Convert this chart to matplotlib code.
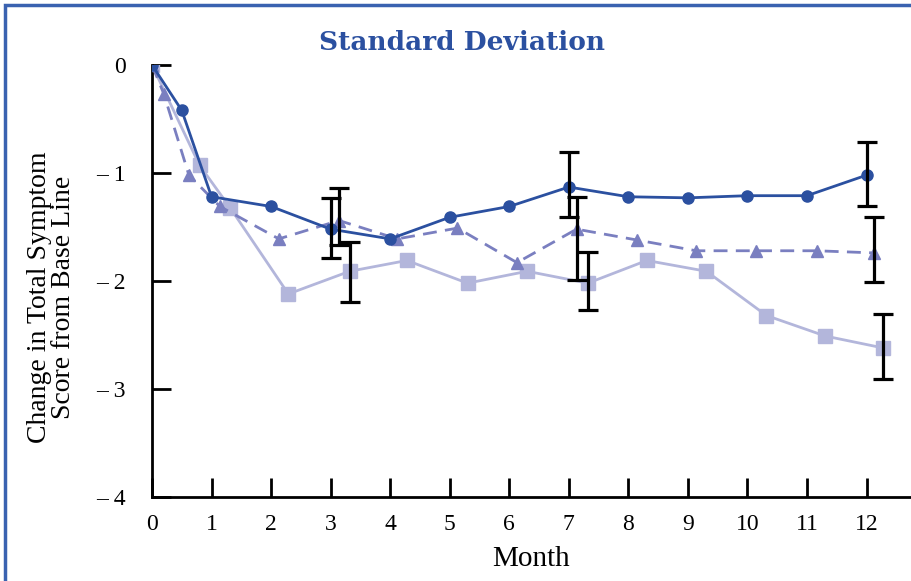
import matplotlib
matplotlib.use('Agg')
import matplotlib.pyplot as plt
import matplotlib.ticker as ticker
from matplotlib.patches import Rectangle

# month positions (series are slightly offset from each other)
x_circle = [0, 0.5, 1, 2, 3, 4, 5, 6, 7, 8, 9, 10, 11, 12]
y_circle = [0, -0.42, -1.22, -1.31, -1.52, -1.61, -1.41, -1.31, -1.13, -1.22, -1.23, -1.21, -1.21, -1.02]

x_tri = [0, 0.2, 0.62, 1.14, 2.13, 3.14, 4.12, 5.13, 6.13, 7.13, 8.14, 9.14, 10.15, 11.16, 12.13]
y_tri = [0, -0.27, -1.02, -1.31, -1.61, -1.44, -1.61, -1.51, -1.83, -1.52, -1.62, -1.72, -1.72, -1.72, -1.74]

x_sq = [0, 0.8, 1.31, 2.29, 3.32, 4.28, 5.3, 6.3, 7.32, 8.31, 9.31, 10.32, 11.31, 12.28]
y_sq = [0, -0.93, -1.32, -2.12, -1.91, -1.81, -2.02, -1.91, -2.02, -1.81, -1.91, -2.32, -2.51, -2.62]

# error bars: x, centre, lower, upper
err_x = [3, 7, 12, 3.14, 7.13, 12.13, 3.32, 7.32, 12.28]
err_c = [-1.51, -1.11, -1.01, -1.40, -1.60, -1.71, -1.91, -2.00, -2.61]
err_lo = [0.28, 0.30, 0.30, 0.27, 0.39, 0.30, 0.28, 0.27, 0.30]
err_hi = [0.28, 0.30, 0.30, 0.26, 0.38, 0.30, 0.27, 0.27, 0.30]

months = list(range(13))
yticks = [0, -1, -2, -3, -4]

c_dark = '#2b50a0'
c_mid = '#7a7fc0'
c_light = '#b3b6db'

plt.rcParams['font.family'] = ['Liberation Serif', 'DejaVu Serif']

fig = plt.figure(figsize=(9.11, 5.81), dpi=100)
ax = fig.add_axes([152 / 911, 84 / 581, (910 - 152) / 911, (497 - 65) / 581])

ax.plot(x_sq, y_sq, color=c_light, lw=2, marker='s', ms=9.5, zorder=2)
ax.plot(x_tri, y_tri, color=c_mid, lw=2, ls=(0, (5, 3)), marker='^', ms=9, zorder=3)
ax.plot(x_circle, y_circle, color=c_dark, lw=2, marker='o', ms=8, zorder=4)
ax.errorbar(err_x, err_c, yerr=[err_lo, err_hi], fmt='none', ecolor='black',
            elinewidth=2.3, capsize=7, capthick=2.3, zorder=5)

ax.set_xlim(0, 12.73)
ax.set_ylim(-4, 0)
ax.set_xticks(months)
ax.set_yticks(yticks)
ax.yaxis.set_major_formatter(ticker.FuncFormatter(
    lambda v, pos: '0' if v == 0 else '\u2013 %d' % abs(v)))
ax.tick_params(axis='both', direction='in', width=2, length=14, labelsize=17, colors='black')
ax.tick_params(axis='x', pad=12)
ax.tick_params(axis='y', pad=19)

for s in ['top', 'right']:
    ax.spines[s].set_visible(False)
for s in ['left', 'bottom']:
    ax.spines[s].set_linewidth(2)

ax.set_xlabel('Month', fontsize=21, labelpad=8)
ax.set_ylabel('Change in Total Symptom\nScore from Base Line', fontsize=20,
              linespacing=0.95, va='center')
ax.yaxis.set_label_coords(-0.132, 0.463)
fig.text(462 / 911, 1 - 42 / 581, 'Standard Deviation', ha='center', va='center',
         fontsize=19, fontweight='bold', color=c_dark, family='DejaVu Serif')

fig.patches.append(Rectangle((5 / 911, -0.1), 1.2, 1 - 5 / 581 + 0.1, transform=fig.transFigure,
                             fill=False, edgecolor='#3a62b0', lw=2.5))

plt.savefig('out.png', dpi=100)
